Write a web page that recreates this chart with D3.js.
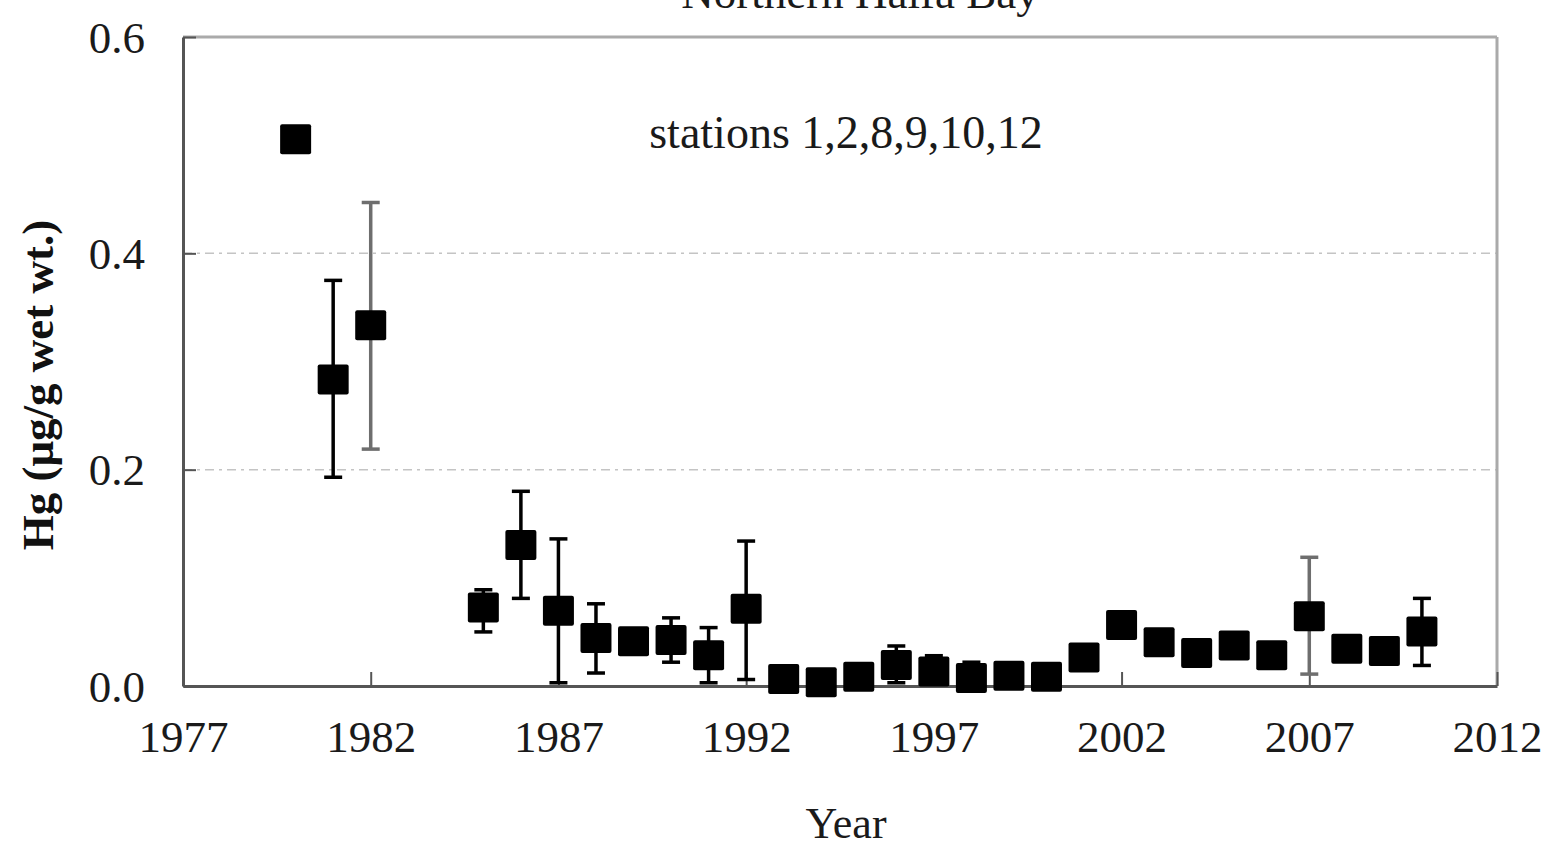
<!DOCTYPE html>
<html>
<head>
<meta charset="utf-8">
<script src="https://cdn.jsdelivr.net/npm/d3@7"></script>
<style>
	body { margin: 0; background: #fff; }
	svg { display: block; font-family: "Liberation Serif", "Times New Roman", serif; }
</style>
</head>
<body>
<div id="chart"></div>
<script>
// Hg in fish, northern Haifa Bay, stations 1,2,8,9,10,12
var years = [1980, 1981, 1982, 1985, 1986, 1987, 1988, 1989, 1990, 1991, 1992, 1993, 1994, 1995, 1996,
	1997, 1998, 1999, 2000, 2001, 2002, 2003, 2004, 2005, 2006, 2007, 2008, 2009, 2010];
var hg = [0.505, 0.283, 0.333, 0.072, 0.130, 0.069, 0.044, 0.041, 0.042, 0.028, 0.071, 0.006, 0.003, 0.008, 0.019,
	0.013, 0.007, 0.009, 0.008, 0.026, 0.056, 0.040, 0.030, 0.037, 0.028, 0.064, 0.034, 0.032, 0.050];
var hgHigh = [null, 0.375, 0.447, 0.089, 0.180, 0.136, 0.076, 0.048, 0.063, 0.054, 0.134, null, null, null, 0.037,
	0.028, 0.022, null, null, null, 0.066, null, null, null, null, 0.119, null, 0.035, 0.081];
var hgLow = [null, 0.193, 0.219, 0.050, 0.081, 0.003, 0.012, 0.034, 0.022, 0.003, 0.006, null, null, null, 0.003,
	0.002, 0.003, null, null, null, 0.046, null, null, null, null, 0.011, null, 0.029, 0.019];
var xTicks = [1977, 1982, 1987, 1992, 1997, 2002, 2007, 2012];
var yTicks = [0, 0.2, 0.4, 0.6];
var greyBars = [1982, 2007];

var width = 1547,
	height = 848;

var margin = {top: 37, left: 183, right: 50, bottom: 162};
var plotW = width - margin.left - margin.right,
	plotH = height - margin.top - margin.bottom;

var svg = d3.select('#chart').append('svg')
	.attr('width', width)
	.attr('height', height);

var x = d3.scaleLinear().domain([1977, 2012]).range([0, plotW]);
var y = d3.scaleLinear().domain([0, 0.6]).range([plotH, 0]);

var g = svg.append('g')
	.attr('transform', 'translate(' + margin.left + ',' + margin.top + ')');

// gridlines (dash-dot)
g.selectAll('line.grid')
	.data(yTicks.filter(d => d > 0 && d < 0.6))
	.enter()
	.append('line')
	.attr('class', 'grid')
	.attr('x1', 0)
	.attr('x2', plotW)
	.attr('y1', d => y(d))
	.attr('y2', d => y(d))
	.style('stroke', '#c4c4c4')
	.style('stroke-width', 1.5)
	.style('stroke-dasharray', '9,5,3,5');

// top + right frame
g.append('line')
	.attr('x1', 0).attr('x2', plotW).attr('y1', 0).attr('y2', 0)
	.style('stroke', '#aaa').style('stroke-width', 3);
g.append('line')
	.attr('x1', plotW).attr('x2', plotW).attr('y1', 0).attr('y2', plotH)
	.style('stroke', '#aaa').style('stroke-width', 3);

// axes, ticks pointing inward
var xAxis = g.append('g')
	.attr('transform', 'translate(0,' + plotH + ')')
	.call(d3.axisBottom(x).tickValues(xTicks).tickFormat(d3.format('d'))
		.tickSizeInner(-14).tickSizeOuter(0).tickPadding(34));

var yAxis = g.append('g')
	.call(d3.axisLeft(y).tickValues(yTicks).tickFormat(d3.format('.1f'))
		.tickSizeInner(-13).tickSizeOuter(0).tickPadding(38));

[xAxis, yAxis].forEach(function(ax) {
	ax.select('.domain').style('stroke', '#555').style('stroke-width', 3);
	ax.selectAll('.tick line').style('stroke', '#555').style('stroke-width', 2);
	ax.selectAll('.tick text')
		.style('font-family', '"Liberation Serif", serif')
		.style('font-size', '45px')
		.style('fill', '#1a1a1a');
});
yAxis.selectAll('.tick text').attr('dy', '0.34em');

// error bars
var points = years.map(function(yr, i) {
	return {year: yr, hg: hg[i], hi: hgHigh[i], lo: hgLow[i]};
});
var withErr = points.filter(d => d.hi !== null);
var cap = 9;

var bars = g.selectAll('g.err')
	.data(withErr)
	.enter()
	.append('g')
	.attr('class', 'err')
	.style('stroke', d => greyBars.indexOf(d.year) >= 0 ? '#6e6e6e' : '#000')
	.style('stroke-width', 3.5);

bars.append('line')
	.attr('x1', d => x(d.year)).attr('x2', d => x(d.year))
	.attr('y1', d => y(d.hi)).attr('y2', d => y(d.lo));
bars.append('line')
	.attr('x1', d => x(d.year) - cap).attr('x2', d => x(d.year) + cap)
	.attr('y1', d => y(d.hi)).attr('y2', d => y(d.hi));
bars.append('line')
	.attr('x1', d => x(d.year) - cap).attr('x2', d => x(d.year) + cap)
	.attr('y1', d => y(d.lo)).attr('y2', d => y(d.lo));

// square markers
var size = 31;
g.selectAll('rect.pt')
	.data(points)
	.enter()
	.append('rect')
	.attr('class', 'pt')
	.attr('x', d => x(d.year) - size / 2)
	.attr('y', d => y(d.hg) - size / 2)
	.attr('width', size)
	.attr('height', size - 1)
	.attr('rx', 2)
	.style('fill', '#000');

// texts
svg.append('text')
	.attr('x', 860)
	.attr('y', 8)
	.attr('text-anchor', 'middle')
	.style('font-size', '45px')
	.style('fill', '#1a1a1a')
	.text('Northern Haifa Bay');

svg.append('text')
	.attr('x', 846)
	.attr('y', 148)
	.attr('text-anchor', 'middle')
	.style('font-size', '46px')
	.style('fill', '#1a1a1a')
	.text('stations 1,2,8,9,10,12');

svg.append('text')
	.attr('x', 846)
	.attr('y', 838)
	.attr('text-anchor', 'middle')
	.style('font-size', '44px')
	.style('fill', '#1a1a1a')
	.text('Year');

svg.append('text')
	.attr('transform', 'translate(53,385) rotate(-90)')
	.attr('text-anchor', 'middle')
	.style('font-size', '45px')
	.style('font-weight', 'bold')
	.style('fill', '#111')
	.text('Hg (μg/g wet wt.)');
</script>
</body>
</html>
